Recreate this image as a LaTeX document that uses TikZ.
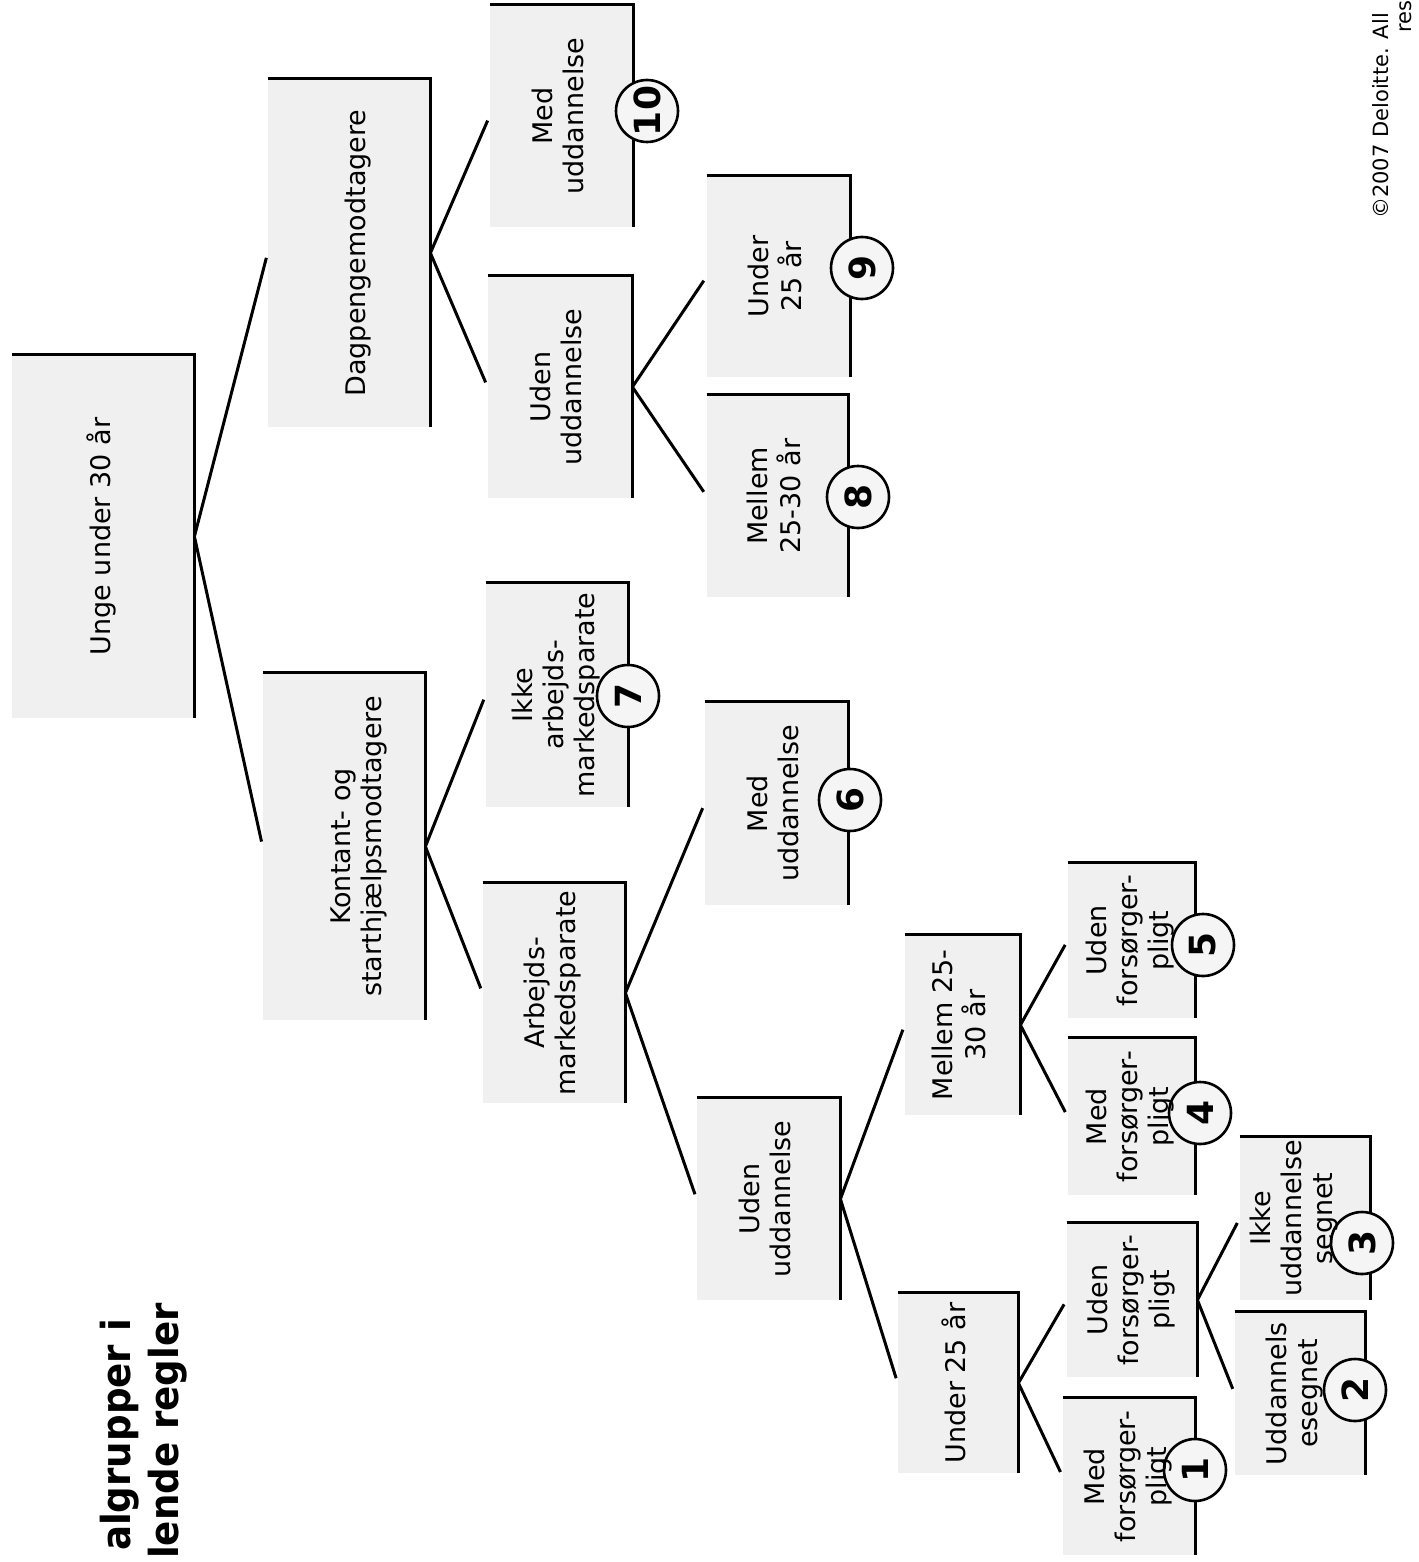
\documentclass[tikz,border=0pt]{standalone}
\usepackage{fontspec}
\setmainfont{DejaVu Sans}

% rotated box text
\newcommand{\vlab}[1]{\rotatebox{90}{\begin{tabular}{@{}c@{}}#1\end{tabular}}}

\begin{document}
\begin{tikzpicture}[
    x=0.5pt, y=-0.5pt,
    grp/.style={fill=gray!12, inner sep=0pt},
    lbl/.style={inner sep=0pt, font=\fontsize{13.5}{15.5}\selectfont},
    rim/.style={line width=1.3pt},
    link/.style={line width=1.5pt, shorten >=2.5pt},
    num/.style={circle, draw, line width=1.3pt, fill=gray!8, minimum size=31pt, inner sep=0pt, rotate=90, font=\fontsize{18}{18}\selectfont\bfseries},
    headline/.style={rotate=90, font=\fontsize{20}{24}\selectfont\bfseries},
    credit/.style={rotate=90, font=\fontsize{10.5}{13}\selectfont},
]
    \useasboundingbox (0,0) rectangle (1418,1562);
    \clip (0,0) rectangle (1418,1562);

    % Title
    \node[headline, anchor=base east] (ttl1) at (130,1312) {\scalebox{0.93}[1]{algrupper i}};
    \node[headline, anchor=base east] (ttl2) at (178,1296) {\scalebox{0.93}[1]{lende regler}};

    % Copyright
    \node[credit, anchor=base east] (copy) at (1388,6) {©2007 Deloitte. All};
    \node[credit, anchor=base west] (rights) at (1411,40) {res};

    % Boxes
    \node[grp, minimum width=91pt, minimum height=181.5pt] (root) at (103,536.5) {};
    \node[grp, minimum width=81pt, minimum height=174pt] (dag) at (349,253) {};
    \node[grp, minimum width=81pt, minimum height=173.5pt] (kon) at (344,846.5) {};
    \node[grp, minimum width=71.5pt, minimum height=111pt] (dmed) at (561.5,116) {};
    \node[grp, minimum width=72pt, minimum height=111pt] (dud) at (560,387) {};
    \node[grp, minimum width=71pt, minimum height=112pt] (ikke) at (557,695) {};
    \node[grp, minimum width=71pt, minimum height=110pt] (arb) at (554,993) {};
    \node[grp, minimum width=71.5pt, minimum height=100.5pt] (u25a) at (778.5,276.5) {};
    \node[grp, minimum width=70.5pt, minimum height=101pt] (m25a) at (777.5,496) {};
    \node[grp, minimum width=71.5pt, minimum height=101.5pt] (amed) at (776.5,803.5) {};
    \node[grp, minimum width=71.5pt, minimum height=101pt] (aud) at (768.5,1199) {};
    \node[grp, minimum width=57.5pt, minimum height=90pt] (m25b) at (962.5,1025) {};
    \node[grp, minimum width=60pt, minimum height=90pt] (u25b) at (958,1383) {};
    \node[grp, minimum width=63.5pt, minimum height=77.5pt] (uf5) at (1131.5,940.5) {};
    \node[grp, minimum width=63.5pt, minimum height=78.5pt] (mf4) at (1131.5,1116.5) {};
    \node[grp, minimum width=65pt, minimum height=77pt] (uf) at (1132,1300) {};
    \node[grp, minimum width=66pt, minimum height=78.5pt] (mf1) at (1129,1476.5) {};
    \node[grp, minimum width=65pt, minimum height=81.5pt] (ikke3) at (1305,1218.5) {};
    \node[grp, minimum width=65pt, minimum height=81.5pt] (udd2) at (1300,1393.5) {};

    % Box edges (top and right)
    \foreach \b in {root,dag,kon,dmed,dud,ikke,arb,u25a,m25a,amed,aud,m25b,u25b,uf5,mf4,uf,mf1,ikke3,udd2}
        \draw[rim] (\b.north west) -- (\b.north east) -- (\b.south east);

    % Tree links
    \foreach \p/\c in {root/dag, root/kon, dag/dmed, dag/dud, dud/u25a, dud/m25a,
                       kon/ikke, kon/arb, arb/amed, arb/aud, aud/m25b, aud/u25b,
                       m25b/uf5, m25b/mf4, u25b/uf, u25b/mf1, uf/ikke3, uf/udd2}
        \draw[link] (\p.east) -- (\c.west);

    % Group numbers
    \node[num] (c10) at (647,111) {10};
    \node[num] (c9) at (862,268) {9};
    \node[num] (c8) at (858,497) {8};
    \node[num] (c7) at (628,696) {7};
    \node[num] (c6) at (850,800) {6};
    \node[num] (c5) at (1203,945) {5};
    \node[num] (c4) at (1200,1113) {4};
    \node[num] (c3) at (1362,1243) {3};
    \node[num] (c2) at (1355,1390) {2};
    \node[num] (c1) at (1195,1470) {1};

    % Box texts
    \node[lbl] (root-t) at (root) {\vlab{Unge under 30 år}};
    \node[lbl, xshift=5pt] (dag-t) at (dag) {\vlab{Dagpengemodtagere}};
    \node[lbl, xshift=8pt] (kon-t) at (kon) {\vlab{Kontant- og\\starthjælpsmodtagere}};
    \node[lbl] (dmed-t) at (dmed) {\vlab{Med\\uddannelse}};
    \node[lbl] (dud-t) at (dud) {\vlab{Uden\\uddannelse}};
    \node[lbl] (ikke-t) at (ikke) {\vlab{Ikke\\arbejds-\\markedsparate}};
    \node[lbl] (arb-t) at (arb) {\vlab{Arbejds-\\markedsparate}};
    \node[lbl] (u25a-t) at (u25a) {\vlab{Under\\25 år}};
    \node[lbl] (m25a-t) at (m25a) {\vlab{Mellem\\25-30 år}};
    \node[lbl] (amed-t) at (amed) {\vlab{Med\\uddannelse}};
    \node[lbl] (aud-t) at (aud) {\vlab{Uden\\uddannelse}};
    \node[lbl] (m25b-t) at (m25b) {\vlab{Mellem 25-\\30 år}};
    \node[lbl] (u25b-t) at (u25b) {\vlab{Under 25 år}};
    \node[lbl] (uf5-t) at (uf5) {\vlab{Uden\\forsørger-\\pligt}};
    \node[lbl] (mf4-t) at (mf4) {\vlab{Med\\forsørger-\\pligt}};
    \node[lbl] (uf-t) at (uf) {\vlab{Uden\\forsørger-\\pligt}};
    \node[lbl] (mf1-t) at (mf1) {\vlab{Med\\forsørger-\\pligt}};
    \node[lbl, xshift=-5pt] (ikke3-t) at (ikke3) {\vlab{Ikke\\uddannelse\\segnet}};
    \node[lbl, xshift=-2pt] (udd2-t) at (udd2) {\vlab{Uddannels\\esegnet}};

\end{tikzpicture}
\end{document}
